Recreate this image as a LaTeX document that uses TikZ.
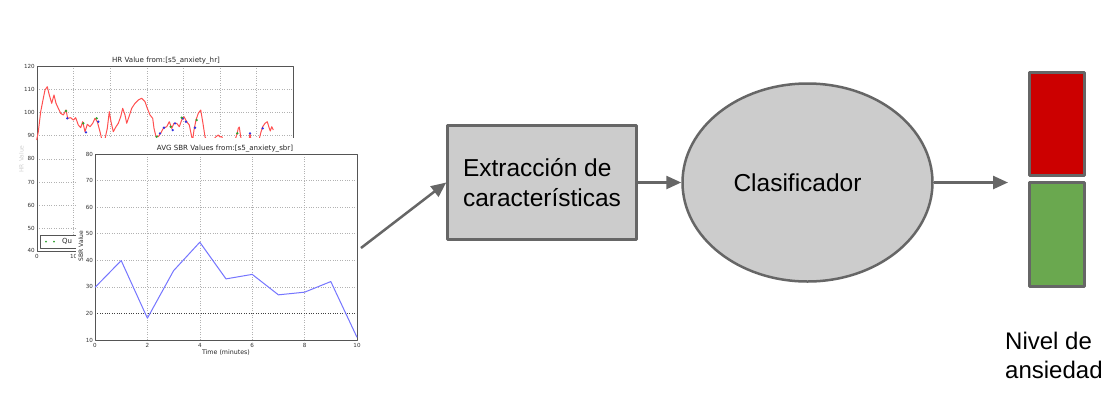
\documentclass[tikz,border=0pt]{standalone}
\usepackage{fontspec}
\setmainfont{Liberation Sans}
\newfontfamily\plotfont{DejaVu Sans}
\usetikzlibrary{arrows.meta,shapes.geometric}
\definecolor{edgegray}{HTML}{666666}
\definecolor{boxgray}{HTML}{CCCCCC}
\definecolor{hired}{HTML}{CC0000}
\definecolor{higreen}{HTML}{6AA84F}
\definecolor{plotred}{HTML}{FF5050}
\definecolor{plotblue}{HTML}{7575FF}
\definecolor{axisgray}{HTML}{555555}
\definecolor{mkblue}{HTML}{3030E0}
\definecolor{mkgreen}{HTML}{30A030}
\begin{document}
\begin{tikzpicture}[x=1pt,y=-1pt,line join=round,
  flowline/.style={draw=edgegray,line width=2.5pt,-{Triangle[length=15pt,width=13pt]}},
  procbox/.style={rectangle,draw=edgegray,fill=boxgray,line width=2.5pt,
    minimum width=189pt,minimum height=114pt,inner sep=0pt,align=left,
    font=\fontsize{24.5}{29.5}\selectfont},
  clfnode/.style={ellipse,draw=edgegray,fill=boxgray,line width=2.5pt,
    minimum width=250pt,minimum height=198pt,inner sep=0pt,
    font=\fontsize{24.5}{29.5}\selectfont},
  levelbox/.style={rectangle,draw=edgegray,line width=2.5pt,minimum width=55pt,inner sep=0pt},
  bigtext/.style={font=\fontsize{24}{29}\selectfont,align=left,inner sep=0pt},
  gridline/.style={gray!60,line width=0.5pt,dash pattern=on 1pt off 1.4pt},
  axisline/.style={axisgray,line width=0.9pt},
  hrline/.style={plotred,line width=1pt},
  sbrline/.style={plotblue,line width=1pt},
  ticklab/.style={font=\plotfont\fontsize{5.6}{6}\selectfont,text=black!80,inner sep=0.5pt},
  plottitle/.style={font=\plotfont\fontsize{7.1}{8}\selectfont,text=black!85,inner sep=0pt},
  plotlab/.style={font=\plotfont\fontsize{6}{7}\selectfont,text=black!85,inner sep=0pt}]
\useasboundingbox (0,0) rectangle (1120,400);

% ---------- HR chart (back) ----------
\foreach \gx in {73.6,110.2,146.8,183.4,220,256.6}
  \draw[gridline] (\gx,66) -- (\gx,251.6);
\foreach \gy in {89.2,112.4,135.6,158.8,182,205.2,228.4}
  \draw[gridline] (37,\gy) -- (293,\gy);
\draw[axisline] (37,66) rectangle (293,251.6);
\foreach \v/\gy in {120/66,110/89.2,100/112.4,90/135.6,80/158.8,70/182,60/205.2,50/228.4,40/250.6}
  \node[ticklab,anchor=east] (hry\v) at (35.5,\gy) {\v};
\node[ticklab] (hrx0) at (37,256.5) {0};
\node[ticklab] (hrx10) at (73.6,256.5) {10};
\node[plottitle] (hrtitle) at (166,61) {HR Value from:[s5\_anxiety\_hr]};
\node[plotlab,rotate=90,text=gray!35] (hrylab) at (21.5,159) {HR Value};
\draw[hrline] (36.7,140) -- (38.3,131.7) -- (40.7,111.7) -- (43.3,98.3) -- (45,90) -- (47.3,86.7)
  -- (49.3,95) -- (51.7,103.3) -- (54,95) -- (56,103.3) -- (58.3,108.3) -- (60.7,113.3)
  -- (63.3,115) -- (66,110) -- (67.7,118.3) -- (70.7,117.7) -- (73.3,120) -- (75.7,117.7)
  -- (78.3,125) -- (80.7,127.7) -- (82.7,121.7) -- (85,131.7) -- (87.3,124.3) -- (90,126.7)
  -- (92.7,123.3) -- (95,118.3) -- (97.3,121.7) -- (100,131.7) -- (101.7,139) -- (105,139)
  -- (107.3,128.3) -- (109.3,111.7) -- (111,121.7) -- (113.3,131.7) -- (116,126.7) -- (118.3,123.3)
  -- (120.7,116.7) -- (122.7,108.3) -- (125,115) -- (126.7,123.3) -- (129,116.7) -- (131.7,108.3)
  -- (135,103.3) -- (138.3,100) -- (141.7,98.3) -- (145,101.7) -- (147.3,108.3) -- (150,115)
  -- (152.7,118.3) -- (154,128.3) -- (156,136.7) -- (158.3,136.7) -- (160.7,133.3) -- (163.3,128.3)
  -- (166.7,126.7) -- (169.3,121.7) -- (171.7,128.3) -- (174,123.3) -- (176.7,123.3) -- (179.3,126.7)
  -- (181.7,120) -- (184,116.7) -- (186.7,121.7) -- (189.3,125) -- (191.7,136.7) -- (192.7,140)
  -- (194,130) -- (196,120) -- (198.3,113.3) -- (200.7,110) -- (202.7,121.7) -- (205,136.7) -- (206.7,140);
\draw[hrline] (213,140) -- (216,136.7) -- (218.3,135) -- (220,137) -- (221.7,136.5) -- (223,140);
\draw[hrline] (235,140) -- (236.7,135) -- (238.3,128.3) -- (239.3,127) -- (240.7,136.7) -- (241.5,140);
\draw[hrline] (249,140) -- (250,133.3) -- (251,140);
\draw[hrline] (259,140) -- (260.7,133) -- (262.7,126.7) -- (265,123.3) -- (267.3,121.7) -- (269.3,128.3)
  -- (270.3,131) -- (271.7,126.7) -- (273.3,130);
\foreach \mx/\my in {67.3/118.3,86/132.3,98.3/121.7,160/133.3,164/127.7,172.7/130,175/123.3,
  182.7/118.3,186/121.7,195/127.7,250/133.3,262.7/128.3}
  \fill[mkblue] (\mx,\my) circle[radius=1.3pt];
\foreach \mx/\my in {66/111,83.3/123.3,96.7/118.3,156.7/136.7,170.7/126.7,181.7/117.7,196.7/120,237.3/133.3}
  \fill[mkgreen] (\mx,\my) circle[radius=1.3pt];
% legend
\draw[axisline,fill=white] (40,235) rectangle (90,248);
\fill[mkgreen] (46,241.5) circle[radius=1pt];
\fill[mkgreen] (54,241.5) circle[radius=1pt];
\node[plotlab,anchor=west,font=\plotfont\fontsize{7}{8}\selectfont] (legtext) at (62,241.8) {Qu};

% ---------- SBR figure (front) ----------
\fill[white] (76,138) rectangle (366,362);
\begin{scope}[shift={(95,340)},x=26.2pt,y=2.657pt]
  \foreach \t in {2,4,6,8}
    \draw[gridline] (\t,0) -- (\t,70);
  \foreach \o in {20,30,40,50,60}
    \draw[gridline] (0,\o) -- (10,\o);
  \draw[gridline,black!75] (0,10) -- (10,10);
  \draw[axisline] (0,0) rectangle (10,70);
  \draw[sbrline] (0,19.8) -- (1,29.9) -- (2,8.2) -- (3,26.1) -- (4,36.8) -- (5,23)
    -- (6,24.7) -- (7,17) -- (8,18) -- (9,22) -- (10,1);
  \foreach \v/\o in {10/0,20/10,30/20,40/30,50/40,60/50,70/60,80/70}
    \node[ticklab,anchor=east] (sby\v) at (-0.05,\o) {\v};
  \foreach \t in {0,2,4,6,8,10}
    \node[ticklab,anchor=north] (sbx\t) at (\t,-0.9) {\t};
\end{scope}
\node[plottitle] (sbtitle) at (225,149) {AVG SBR Values from:[s5\_anxiety\_sbr]};
\node[plotlab,font=\plotfont\fontsize{6.3}{7}\selectfont] (sbxlab) at (226,352.5) {Time (minutes)};
\node[plotlab,rotate=90] (sbylab) at (81,246) {SBR Value};

% ---------- flow diagram ----------
\coordinate (src) at (361,248);
\node[procbox] (ext) at (542,182.5) {Extracción de\\características};
\node[clfnode] (clf) at (807.5,182.5) {Clasificador\hspace*{20pt}};
\coordinate (outpt) at (1008,182.5);
\node[levelbox,fill=hired,minimum height=103pt] (high) at (1057,124) {};
\node[levelbox,fill=higreen,minimum height=104pt] (low) at (1057,234.5) {};
\node[bigtext,anchor=north west] (lvl) at (1005,331.5) {Nivel de\\ansiedad};

\draw[flowline] (src) -- (ext.west);
\draw[flowline] (ext) -- (clf);
\draw[flowline] (clf) -- (outpt);
\end{tikzpicture}
\end{document}
